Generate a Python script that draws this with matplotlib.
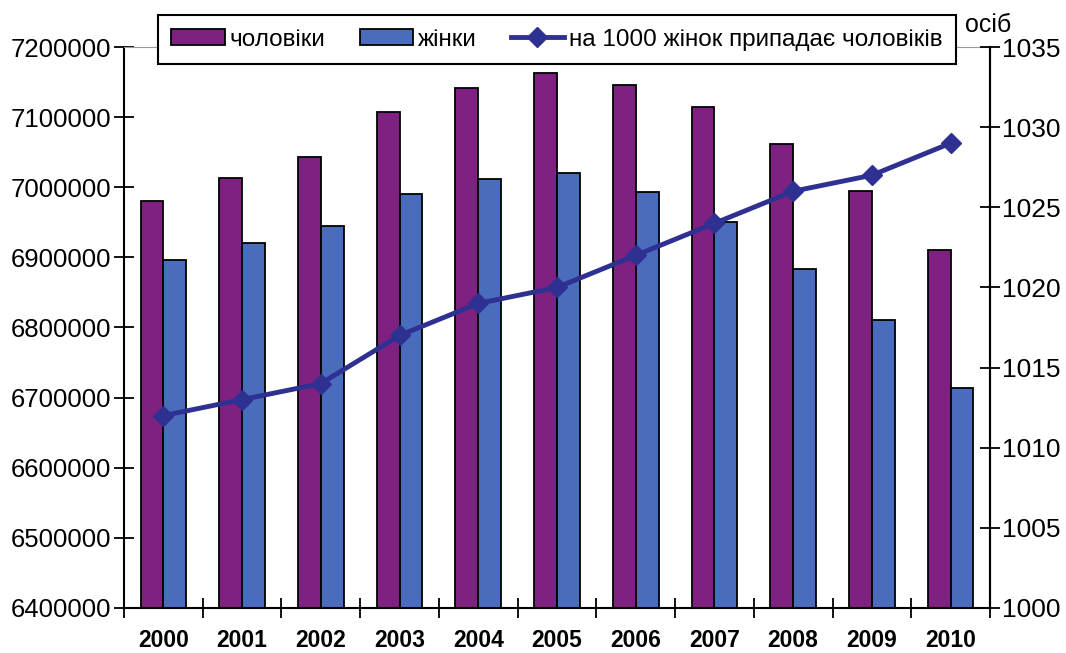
import matplotlib
matplotlib.use('Agg')
import matplotlib.pyplot as plt
import numpy as np

plt.rcParams['font.family'] = ['Liberation Sans', 'DejaVu Sans']

# Data
years = ['2000', '2001', '2002', '2003', '2004', '2005', '2006', '2007', '2008', '2009', '2010']
men = [6981000, 7013000, 7043000, 7107000, 7141000, 7163000, 7146000, 7115000, 7061000, 6995000, 6911000]
women = [6896000, 6921000, 6945000, 6991000, 7012000, 7021000, 6993000, 6950000, 6884000, 6810000, 6714000]
ratio = [1012, 1013, 1014, 1017, 1019, 1020, 1022, 1024, 1026, 1027, 1029]

purple = '#7f2181'
blue = '#4a6cbd'
navy = '#2e3192'

fig = plt.figure(figsize=(10.66, 6.53), dpi=100)
ax = fig.add_axes([0.1163, 0.069, 0.8124, 0.859])
x = np.arange(len(years))
w = 0.29
b1 = ax.bar(x - w / 2, men, w, color=purple, edgecolor='black', linewidth=1.3, label='чоловіки', zorder=2)
b2 = ax.bar(x + w / 2, women, w, color=blue, edgecolor='black', linewidth=1.3, label='жінки', zorder=2)
ax.set_ylim(6400000, 7200000)
ax.set_xlim(-0.5, len(years) - 0.5)
ax.set_yticks(np.arange(6400000, 7200001, 100000))
ax.set_yticklabels([str(v) for v in range(6400000, 7200001, 100000)], fontsize=18.5)
ax.set_xticks(x)
ax.set_xticklabels(years, fontsize=16.5, fontweight='bold', fontstretch='condensed')
ax.tick_params(axis='x', length=0, pad=15)
ax.set_xticks(np.arange(-0.5, len(years), 1), minor=True)
ax.tick_params(axis='x', which='minor', direction='inout', length=14, width=1.3)
ax.tick_params(axis='y', direction='inout', length=14, width=1.3, pad=2)
for s in ['left', 'bottom', 'right']:
    ax.spines[s].set_linewidth(1.5)
ax.spines['top'].set_color('#999999')

ax2 = ax.twinx()
ln, = ax2.plot(x, ratio, color=navy, linewidth=3.5, marker='D', markersize=10, label='на 1000 жінок припадає чоловіків', zorder=3)
ax2.set_ylim(1000, 1035)
ax2.set_yticks(np.arange(1000, 1036, 5))
ax2.set_yticklabels([str(v) for v in range(1000, 1036, 5)], fontsize=19)
ax2.tick_params(axis='y', direction='inout', length=14, width=1.3, pad=2)
ax2.spines['right'].set_linewidth(1.5)
ax2.spines['top'].set_visible(False)
ax2.spines['left'].set_visible(False)
ax2.spines['bottom'].set_visible(False)

fig.text(0.905, 0.962, 'осіб', fontsize=18, ha='left', va='center')

leg = fig.legend(handles=[b1, b2, ln], loc='center', bbox_to_anchor=(0.5225, 0.9395), ncol=3,
                 fontsize=17.5, frameon=True, fancybox=False, edgecolor='black', framealpha=1,
                 handlelength=2.2, handleheight=0.6, handletextpad=0.2, columnspacing=1.4,
                 borderpad=0.55)
leg.get_frame().set_linewidth(1.5)

fig.savefig('out.png', dpi=100)
